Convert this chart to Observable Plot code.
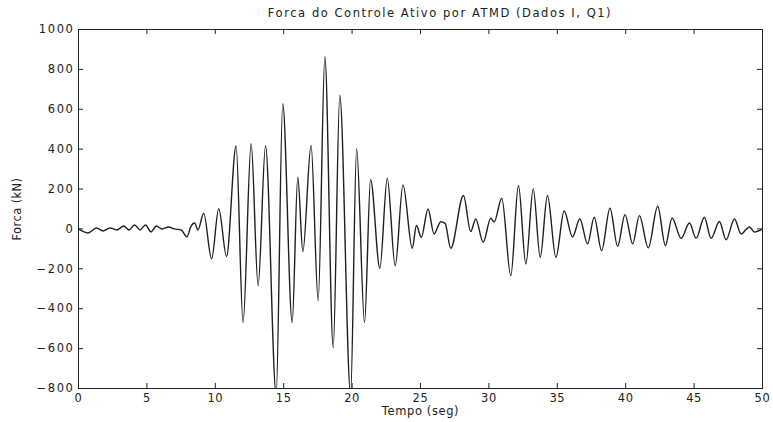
<!DOCTYPE html>
<html><head><meta charset="utf-8">
<script src="https://cdn.jsdelivr.net/npm/d3@7"></script>
<script src="https://cdn.jsdelivr.net/npm/@observablehq/plot@0.6"></script>
<style>
body{margin:0;background:#fff;font-family:"DejaVu Sans",sans-serif;}
#wrap{position:relative;width:773px;}
#title{position:relative;height:22px;width:773px;}
#title span{position:absolute;left:440px;top:6px;transform:translateX(-50%);white-space:nowrap;font-size:11.5px;letter-spacing:1.55px;color:#222;}
.c g[aria-label="y-axis tick label"] text{letter-spacing:1.6px;}
.c g[aria-label="x-axis tick label"] text{letter-spacing:0.6px;}
.c g[aria-label="x-axis label"] text{letter-spacing:0.6px;}
.c g[aria-label="y-axis label"] text{letter-spacing:0.4px;}
</style></head><body>
<div id="wrap">
<div id="title"><span>Forca do Controle Ativo por ATMD (Dados I, Q1)</span></div>
<div id="chart"></div>
</div>
<script>
const time = [0, 0.7, 1.3, 1.8, 2.3, 2.8, 3.3, 3.7, 4.1, 4.5, 4.9, 5.3, 5.7, 6.1, 6.6, 7.0, 7.5, 7.93, 8.2, 8.49, 8.73,
  9.15, 9.73, 10.25, 10.82, 11.52, 12.03, 12.62, 13.13, 13.67, 14.45, 14.93, 15.62, 16.03, 16.4, 17.0, 17.52, 18.01,
  18.62, 19.1, 19.89, 20.33, 20.91, 21.35, 22.03, 22.57, 23.15, 23.72, 24.4, 24.7, 25.06, 25.55, 25.99, 26.48, 26.8,
  27.21, 28.14, 28.67, 29.04, 29.58, 30.14, 30.38, 30.94, 31.6, 32.16, 32.7, 33.24, 33.75, 34.28, 34.9, 35.5, 36.11,
  36.65, 37.21, 37.7, 38.24, 38.85, 39.41, 39.95, 40.51, 41.0, 41.65, 42.34, 42.9, 43.39, 44.05, 44.66, 45.15, 45.75,
  46.24, 46.85, 47.34, 47.95, 48.44, 48.8, 49.05, 49.4, 50];
const force = [0, -20, 5, -10, 5, -5, 15, -5, 20, -5, 20, -15, 15, 0, 10, 0, -5, -40, 10, 30, -5,
  78, -150, 102, -138, 416, -469, 427, -285, 416, -830, 628, -469, 260, -114, 419, -360, 863,
  -595, 670, -830, 402, -469, 248, -197, 255, -185, 221, -97, 17, -42, 100, -25, 36, 28,
  -97, 168, -13, 50, -67, 54, 34, 154, -235, 218, -176, 201, -142, 168, -142, 90, -40,
  50, -75, 59, -109, 104, -87, 72, -75, 67, -95, 114, -84, 55, -47, 30, -47, 59,
  -47, 37, -54, 50, -25, -3, 10, -15, 0];
const xTicks = [0, 5, 10, 15, 20, 25, 30, 35, 40, 45, 50];
const yTicks = [-800, -600, -400, -200, 0, 200, 400, 600, 800, 1000];

const data = time.map((t, i) => ({t, f: force[i]}));
const W = 773, H = 400, mt = 7, mb = 34, ml = 78, mr = 11;
const ph = H - mt - mb, pw = W - ml - mr;
const ink = "#222";
const fmt = d => (d < 0 ? "\u2212" + Math.abs(d) : String(d));
const plot = Plot.plot({
  className: "c",
  width: W, height: H, marginTop: mt, marginBottom: mb, marginLeft: ml, marginRight: mr,
  style: {fontFamily: "DejaVu Sans, sans-serif", fontSize: "11px", color: ink, background: "#fff"},
  x: {domain: [0, 50]},
  y: {domain: [-800, 1000]},
  marks: [
    Plot.axisX(xTicks, {tickSize: 0, tickPadding: 5, tickFormat: fmt, fontSize: 11.5, label: "Tempo (seg)", labelAnchor: "center", labelArrow: "none", labelOffset: 26}),
    Plot.axisY(yTicks, {tickSize: 0, tickPadding: 4, tickFormat: fmt, fontSize: 11.5, label: "Forca (kN)", labelAnchor: "center", labelArrow: "none", labelOffset: 66}),
    Plot.tickX(xTicks, {x: d => d, insetTop: ph - 5, stroke: ink}),
    Plot.tickX(xTicks, {x: d => d, insetBottom: ph - 5, stroke: ink}),
    Plot.tickY(yTicks, {y: d => d, insetRight: pw - 5, stroke: ink}),
    Plot.tickY(yTicks, {y: d => d, insetLeft: pw - 5, stroke: ink}),
    Plot.line(data, {x: "t", y: "f", curve: "monotone-x", stroke: "#1f1f1f", strokeWidth: 1.4, clip: true}),
    Plot.frame({stroke: ink})
  ]
});
document.getElementById("chart").appendChild(plot);
</script>
</body></html>
